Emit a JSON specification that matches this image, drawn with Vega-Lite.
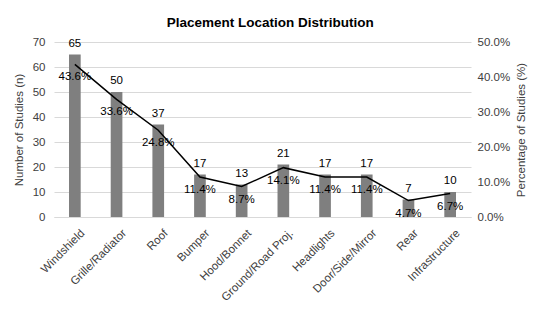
{
  "$schema": "https://vega.github.io/schema/vega-lite/v6.json",
  "width": 417,
  "height": 175,
  "padding": {"left": 13, "top": 15, "right": 8, "bottom": 10},
  "background": "white",
  "title": {"text": "Placement Location Distribution", "font": "Liberation Sans", "fontSize": 13.5, "fontWeight": "bold", "color": "#000000", "anchor": "middle", "frame": "bounds", "offset": 7},
  "data": {"values": [
    {"loc": "Windshield", "n": 65, "pct": 0.436},
    {"loc": "Grille/Radiator", "n": 50, "pct": 0.336},
    {"loc": "Roof", "n": 37, "pct": 0.248},
    {"loc": "Bumper", "n": 17, "pct": 0.114},
    {"loc": "Hood/Bonnet", "n": 13, "pct": 0.087},
    {"loc": "Ground/Road Proj.", "n": 21, "pct": 0.141},
    {"loc": "Headlights", "n": 17, "pct": 0.114},
    {"loc": "Door/Side/Mirror", "n": 17, "pct": 0.114},
    {"loc": "Rear", "n": 7, "pct": 0.047},
    {"loc": "Infrastructure", "n": 10, "pct": 0.067}
  ]},
  "encoding": {
    "x": {"field": "loc", "type": "nominal", "sort": null, "title": null,
      "scale": {"paddingInner": 0.72, "paddingOuter": 0.36},
      "axis": {"labelAngle": -45, "labelFont": "Liberation Sans", "labelFontSize": 11.5, "labelColor": "#404040", "ticks": false, "domain": true, "domainColor": "#d9d9d9", "labelPadding": 10, "labelOffset": 4}}
  },
  "layer": [
    {
      "encoding": {
        "y": {"field": "n", "type": "quantitative", "scale": {"domain": [0, 70]},
          "axis": {"title": "Number of Studies (n)", "values": [0,10,20,30,40,50,60,70], "titleFont": "Liberation Sans", "titleFontSize": 11.5, "titleFontWeight": "normal", "titleColor": "#404040", "labelFont": "Liberation Sans", "labelFontSize": 11.5, "labelColor": "#404040", "ticks": false, "domain": false, "grid": true, "gridColor": "#d9d9d9", "labelPadding": 9, "titlePadding": 8}}
      },
      "layer": [
        {"mark": {"type": "bar", "color": "#7f7f7f"}},
        {"mark": {"type": "text", "dy": -11, "font": "Liberation Sans", "fontSize": 11.5, "color": "#000000"}, "encoding": {"text": {"field": "n"}}}
      ]
    },
    {
      "encoding": {
        "y": {"field": "pct", "type": "quantitative", "scale": {"domain": [0, 0.5]},
          "axis": {"orient": "right", "title": "Percentage of Studies (%)", "titleAngle": 270, "titleBaseline": "top", "format": ".1%", "values": [0,0.1,0.2,0.3,0.4,0.5], "titleFont": "Liberation Sans", "titleFontSize": 11.5, "titleFontWeight": "normal", "titleColor": "#404040", "labelFont": "Liberation Sans", "labelFontSize": 11.5, "labelColor": "#404040", "ticks": false, "domain": false, "grid": false, "labelPadding": 6, "titlePadding": 6}}
      },
      "layer": [
        {"mark": {"type": "line", "color": "#000000", "strokeWidth": 1.5}},
        {"mark": {"type": "text", "dy": 13, "font": "Liberation Sans", "fontSize": 11.5, "color": "#000000"}, "encoding": {"text": {"field": "pct", "format": ".1%"}}}
      ]
    }
  ],
  "resolve": {"scale": {"y": "independent"}},
  "config": {"view": {"stroke": null}}
}
